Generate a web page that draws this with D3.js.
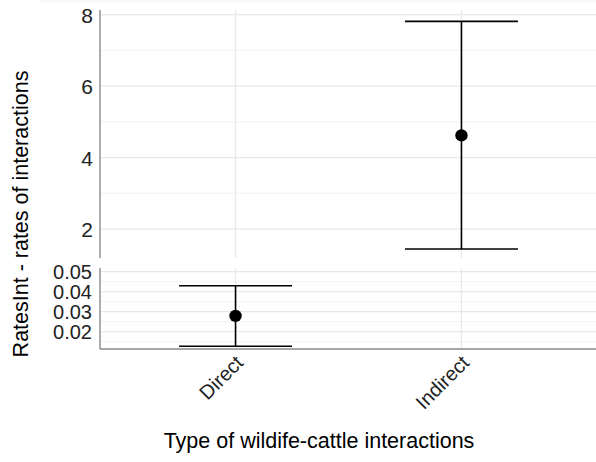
<!DOCTYPE html>
<html>
<head>
<meta charset="utf-8">
<script src="https://cdn.jsdelivr.net/npm/d3@7"></script>
<style>
  body { margin: 0; background: #fff; }
  svg text { font-family: "Liberation Sans", Arial, sans-serif; }
</style>
</head>
<body>
<div id="chart"></div>
<script>
// data
var categories = ["Direct", "Indirect"];
var rateMean  = [0.0279, 4.62];
var rateLower = [0.0127, 1.44];
var rateUpper = [0.043, 7.81];

// broken y axis: two panels
var upperTicks = [2, 4, 6, 8];
var upperMinor = [3, 5, 7];
var lowerTicks = [0.02, 0.03, 0.04, 0.05];
var lowerMinor = [0.015, 0.025, 0.035, 0.045];

var width = 596, height = 462;
var left = 100, right = 597;

var svg = d3.select("#chart").append("svg")
  .attr("width", width)
  .attr("height", height);

// x scale, ggplot-like 0.6 expansion on discrete axis
var x = d3.scaleBand()
  .domain(categories)
  .range([left, right])
  .paddingInner(0)
  .paddingOuter(0.1);
var cx = function(c) { return x(c) + x.bandwidth() / 2; };

// upper and lower y scales
var yUp = d3.scaleLinear().domain([1.19, 8.1]).range([258, 11]);
var yLo = d3.scaleLinear().domain([0.0113, 0.0517]).range([349, 268.3]);

// faint outer background edge
svg.append("line")
  .attr("x1", 40).attr("x2", width).attr("y1", 1).attr("y2", 1)
  .attr("stroke", "#f3f3f3").attr("stroke-width", 1);

function panel(y, ticks, minor, top, bottom) {
  var g = svg.append("g");
  // minor grid
  g.selectAll(".minor").data(minor).enter().append("line")
    .attr("x1", left).attr("x2", right)
    .attr("y1", function(d) { return y(d); })
    .attr("y2", function(d) { return y(d); })
    .attr("stroke", "#efefef").attr("stroke-width", 0.8);
  // major grid
  g.selectAll(".major").data(ticks).enter().append("line")
    .attr("x1", left).attr("x2", right)
    .attr("y1", function(d) { return y(d); })
    .attr("y2", function(d) { return y(d); })
    .attr("stroke", "#e8e8e8").attr("stroke-width", 1.3);
  // vertical grid
  g.selectAll(".vgrid").data(categories).enter().append("line")
    .attr("x1", function(d) { return cx(d); })
    .attr("x2", function(d) { return cx(d); })
    .attr("y1", top).attr("y2", bottom)
    .attr("stroke", "#e8e8e8").attr("stroke-width", 1.3);
  // left axis line
  g.append("line")
    .attr("x1", left).attr("x2", left)
    .attr("y1", top).attr("y2", bottom)
    .attr("stroke", "#8a8a8a").attr("stroke-width", 1.4);
  return g;
}

panel(yUp, upperTicks, upperMinor, 10, 258);
panel(yLo, lowerTicks, lowerMinor, 268, 349);

// bottom axis line
svg.append("line")
  .attr("x1", left).attr("x2", right)
  .attr("y1", 349).attr("y2", 349)
  .attr("stroke", "#8a8a8a").attr("stroke-width", 1.4);

// y tick labels
var axUp = svg.append("g")
  .attr("transform", "translate(93,0)")
  .call(d3.axisLeft(yUp).tickValues(upperTicks).tickSize(0).tickPadding(0).tickFormat(d3.format("d")));
axUp.select(".domain").remove();
axUp.selectAll("text")
  .attr("fill", "#222").style("font-size", "21px")
  .attr("dy", "0.36em");

var axLo = svg.append("g")
  .attr("transform", "translate(92,0)")
  .call(d3.axisLeft(yLo).tickValues(lowerTicks).tickSize(0).tickPadding(0).tickFormat(d3.format(".2f")));
axLo.select(".domain").remove();
axLo.selectAll("text")
  .attr("fill", "#222").style("font-size", "20px")
  .attr("dy", "0.36em");

// error bars + points, each in the panel that holds its range
var capHalf = x.step() * 0.25;
categories.forEach(function(c, i) {
  var y = rateUpper[i] > 1 ? yUp : yLo;
  var xc = cx(c);
  var g = svg.append("g").attr("stroke", "#000").attr("stroke-width", 1.6);
  g.append("line").attr("x1", xc).attr("x2", xc)
    .attr("y1", y(rateLower[i])).attr("y2", y(rateUpper[i]));
  g.append("line").attr("x1", xc - capHalf).attr("x2", xc + capHalf)
    .attr("y1", y(rateUpper[i])).attr("y2", y(rateUpper[i]));
  g.append("line").attr("x1", xc - capHalf).attr("x2", xc + capHalf)
    .attr("y1", y(rateLower[i])).attr("y2", y(rateLower[i]));
  svg.append("circle")
    .attr("cx", xc).attr("cy", y(rateMean[i]))
    .attr("r", 6.2).attr("fill", "#000");
});

// x tick labels, rotated 45
svg.selectAll(".xlab").data(categories).enter().append("text")
  .attr("transform", function(d) { return "translate(" + (cx(d) + 9) + ",364) rotate(-45)"; })
  .attr("text-anchor", "end")
  .attr("fill", "#222")
  .style("font-size", "20px")
  .text(function(d) { return d; });

// axis titles
svg.append("text")
  .attr("x", 319).attr("y", 448)
  .attr("text-anchor", "middle")
  .style("font-size", "21.5px")
  .attr("fill", "#000")
  .text("Type of wildife-cattle interactions");

svg.append("text")
  .attr("transform", "translate(28,214) rotate(-90)")
  .attr("text-anchor", "middle")
  .style("font-size", "21.5px")
  .attr("fill", "#000")
  .text("RatesInt - rates of interactions");
</script>
</body>
</html>
